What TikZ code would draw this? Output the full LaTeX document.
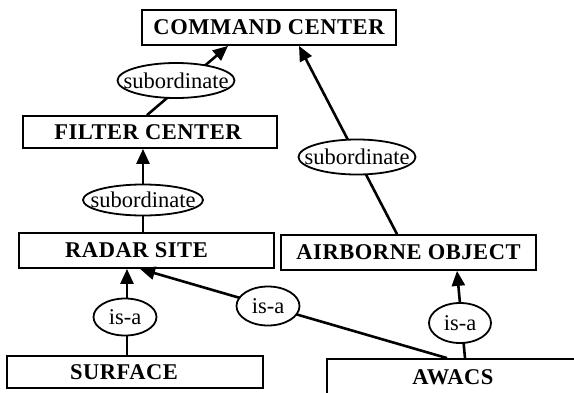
\documentclass[tikz,border=0pt]{standalone}
\usepackage{fontspec}
\setmainfont{Liberation Serif}
\newfontfamily\boxfont[LetterSpace=2.5]{Liberation Serif}
\usetikzlibrary{arrows.meta,shapes.geometric}
\tikzset{
  box/.style={draw, line width=1.8pt, rectangle, inner sep=0pt, font=\fontsize{22.5}{26}\boxfont\bfseries},
  rel/.style={draw, line width=1.8pt, ellipse, fill=white, inner sep=0pt, font=\fontsize{22.5}{26}\selectfont},
  conn/.style={line width=2.6pt, -{Triangle[length=15pt,width=13pt]}},
  plain/.style={line width=2.6pt}
}
\begin{document}
\begin{tikzpicture}[x=1pt,y=-1pt]
\useasboundingbox (0,0) rectangle (574,392);
% boxes
\node[box, minimum width=254pt, minimum height=35pt] (cmd) at (269,27.5) {COMMAND CENTER};
\node[box, minimum width=254pt, minimum height=32pt] (filter) at (150,132) {FILTER CENTER\hspace*{4pt}};
\node[box, minimum width=255pt, minimum height=35pt] (radar) at (146.5,250.5) {RADAR SITE\hspace*{20pt}};
\node[box, minimum width=255pt, minimum height=35pt] (airborne) at (408.5,252.5) {AIRBORNE OBJECT};
\node[box, minimum width=256pt, minimum height=32pt] (surface) at (135,372) {SURFACE\hspace*{22pt}};
\node[box, minimum width=252pt, minimum height=36pt] (awacs) at (453,377) {AWACS};
% connectors
\draw[conn] ([xshift=-3pt]filter.north) -- ([xshift=-41pt]cmd.south);
\draw[conn] ([xshift=-3.5pt]radar.north) -- ([xshift=-7pt]filter.south);
\draw[conn] ([xshift=-11.5pt]airborne.north) -- ([xshift=30pt]cmd.south);
\draw[conn] ([xshift=-8pt]surface.north) -- ([xshift=-19.5pt]radar.south);
\draw[conn] ([xshift=-6pt]awacs.north) -- ([xshift=-6.5pt]radar.south);
\draw[conn] ([xshift=12pt]awacs.north) -- ([xshift=48.5pt]airborne.south);
% relation labels
\node[rel, minimum width=117pt, minimum height=35pt] (e1) at (176,80.5) {\makebox[0pt]{subordinate}};
\node[rel, minimum width=120pt, minimum height=31pt] (e2) at (143,200) {\makebox[0pt]{subordinate}};
\node[rel, minimum width=117pt, minimum height=35pt] (e3) at (357,157) {\makebox[0pt]{subordinate}};
\node[rel, minimum width=63pt, minimum height=37pt] (e4) at (125,317) {\makebox[0pt]{is-a}};
\node[rel, minimum width=63pt, minimum height=39pt] (e5) at (268,306) {\makebox[0pt]{is-a}};
\node[rel, minimum width=62pt, minimum height=40pt] (e6) at (460,323) {\makebox[0pt]{is-a}};
\end{tikzpicture}
\end{document}
